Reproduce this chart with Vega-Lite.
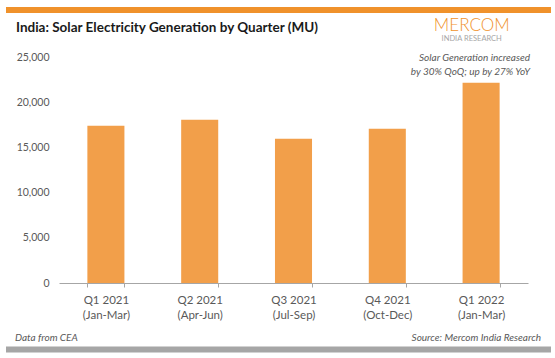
{
  "$schema": "https://vega.github.io/schema/vega-lite/v6.json",
  "width": 469,
  "height": 226,
  "autosize": {"type": "none"},
  "padding": {"left": 59, "top": 57, "right": 27, "bottom": 75},
  "background": "white",
  "config": {"view": {"stroke": null}, "font": "Lato"},
  "layer": [
    {
      "data": {"values": [
        {"quarter": "Q1 2021 (Jan-Mar)", "generation": 17400},
        {"quarter": "Q2 2021 (Apr-Jun)", "generation": 18050},
        {"quarter": "Q3 2021 (Jul-Sep)", "generation": 15950},
        {"quarter": "Q4 2021 (Oct-Dec)", "generation": 17050},
        {"quarter": "Q1 2022 (Jan-Mar)", "generation": 22150}
      ]},
      "mark": {"type": "bar", "color": "#F29F4A"},
      "encoding": {
        "x": {
          "field": "quarter", "type": "nominal", "sort": null,
          "scale": {"paddingInner": 0.605, "paddingOuter": 0.3025},
          "axis": {
            "title": null, "labelAngle": 0,
            "labelExpr": "[substring(datum.label,0,7), substring(datum.label,8)]",
            "labelColor": "#595959", "labelFontSize": 11.5, "labelLineHeight": 15,
            "labelPadding": 7, "domainColor": "#A6A6A6", "tickColor": "#A6A6A6",
            "tickSize": 4, "tickBand": "extent", "grid": false
          }
        },
        "y": {
          "field": "generation", "type": "quantitative",
          "scale": {"domain": [0, 25000], "nice": false},
          "axis": {
            "title": null, "values": [0, 5000, 10000, 15000, 20000, 25000], "format": ",.0f",
            "domain": false, "ticks": false, "grid": false,
            "labelColor": "#595959", "labelFontSize": 10.5, "labelPadding": 10
          }
        }
      }
    },
    {
      "data": {"values": [
        {"title": "India: Solar Electricity Generation by Quarter (MU)",
         "logo": "MERCOM", "logo2": "INDIA RESEARCH",
         "note1": "Solar Generation increased", "note2": "by 30% QoQ; up by 27% YoY",
         "left": "Data from CEA", "right": "Source: Mercom India Research"}
      ]},
      "layer": [
        {
          "mark": {"type": "rect", "color": "#F0922B"},
          "encoding": {
            "x": {"datum": -0.113, "type": "quantitative", "scale": {"domain": [0, 1], "nice": false, "zero": false}, "axis": null},
            "x2": {"datum": 1.049},
            "y": {"datum": 1.2212, "type": "quantitative", "scale": {"domain": [0, 1], "nice": false, "zero": false}, "axis": null},
            "y2": {"datum": 1.1947}
          }
        },
        {
          "mark": {"type": "rect", "color": "#A6A6A6"},
          "encoding": {
            "x": {"datum": -0.113, "type": "quantitative"},
            "x2": {"datum": 1.049},
            "y": {"datum": -0.281, "type": "quantitative"},
            "y2": {"datum": -0.3075}
          }
        },
        {
          "mark": {"type": "text", "align": "left", "baseline": "middle", "fontSize": 13.5, "fontWeight": "bold", "color": "#1A1A1A"},
          "encoding": {
            "x": {"datum": -0.0917, "type": "quantitative"},
            "y": {"datum": 1.1283, "type": "quantitative"},
            "text": {"field": "title"}
          }
        },
        {
          "mark": {"type": "text", "align": "center", "baseline": "middle", "fontSize": 17, "fontWeight": 300, "color": "#F0922B"},
          "encoding": {
            "x": {"datum": 0.88, "type": "quantitative"},
            "y": {"datum": 1.1372, "type": "quantitative"},
            "text": {"field": "logo"}
          }
        },
        {
          "mark": {"type": "text", "align": "center", "baseline": "middle", "fontSize": 7.5, "color": "#A6A6A6"},
          "encoding": {
            "x": {"datum": 0.88, "type": "quantitative"},
            "y": {"datum": 1.0796, "type": "quantitative"},
            "text": {"field": "logo2"}
          }
        },
        {
          "mark": {"type": "text", "align": "right", "baseline": "middle", "fontSize": 10, "fontStyle": "italic", "color": "#595959"},
          "encoding": {
            "x": {"datum": 1.0043, "type": "quantitative"},
            "y": {"datum": 0.9956, "type": "quantitative"},
            "text": {"field": "note1"}
          }
        },
        {
          "mark": {"type": "text", "align": "right", "baseline": "middle", "fontSize": 10, "fontStyle": "italic", "color": "#595959"},
          "encoding": {
            "x": {"datum": 1.0043, "type": "quantitative"},
            "y": {"datum": 0.9336, "type": "quantitative"},
            "text": {"field": "note2"}
          }
        },
        {
          "mark": {"type": "text", "align": "left", "baseline": "middle", "fontSize": 10, "fontStyle": "italic", "color": "#595959"},
          "encoding": {
            "x": {"datum": -0.0938, "type": "quantitative"},
            "y": {"datum": -0.2434, "type": "quantitative"},
            "text": {"field": "left"}
          }
        },
        {
          "mark": {"type": "text", "align": "right", "baseline": "middle", "fontSize": 10, "fontStyle": "italic", "color": "#595959"},
          "encoding": {
            "x": {"datum": 1.0277, "type": "quantitative"},
            "y": {"datum": -0.2434, "type": "quantitative"},
            "text": {"field": "right"}
          }
        }
      ]
    }
  ],
  "resolve": {"scale": {"x": "independent", "y": "independent"}, "axis": {"x": "independent", "y": "independent"}}
}
